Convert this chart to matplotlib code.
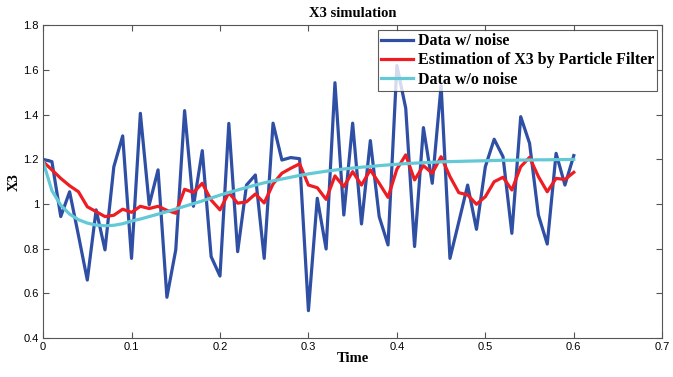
import numpy as np
import matplotlib.pyplot as plt

# time axis (step 0.01)
t = np.round(np.arange(0, 0.601, 0.01), 2)

x3_noisy = [1.20, 1.19, 0.944, 1.055, 0.86, 0.66, 0.974, 0.795, 1.167, 1.305,
            0.757, 1.406, 0.996, 1.153, 0.583, 0.795, 1.418, 0.99, 1.239, 0.765,
            0.678, 1.361, 0.787, 1.085, 1.13, 0.757, 1.362, 1.197, 1.208, 1.203,
            0.523, 1.026, 0.799, 1.543, 0.951, 1.362, 0.911, 1.284, 0.944, 0.817,
            1.62, 1.429, 0.81, 1.342, 1.093, 1.53, 0.757, 0.92, 1.085, 0.887,
            1.167, 1.29, 1.212, 0.869, 1.391, 1.272, 0.951, 0.821, 1.227, 1.085,
            1.217]

x3_pf = [1.19, 1.153, 1.115, 1.082, 1.055, 0.988, 0.966, 0.944, 0.95, 0.977,
         0.963, 0.99, 0.98, 0.99, 0.972, 0.959, 1.066, 1.052, 1.093, 1.018,
         0.974, 1.051, 1.004, 1.01, 1.045, 1.005, 1.09, 1.138, 1.16, 1.18,
         1.085, 1.073, 1.021, 1.126, 1.078, 1.145, 1.085, 1.153, 1.093, 1.03,
         1.156, 1.22, 1.108, 1.172, 1.138, 1.212, 1.123, 1.051, 1.041, 0.999,
         1.033, 1.10, 1.12, 1.063, 1.167, 1.209, 1.123, 1.055, 1.115, 1.11,
         1.142]

x3_true = [1.19, 1.06, 0.995, 0.955, 0.93, 0.915, 0.906, 0.903, 0.905, 0.912,
           0.924, 0.933, 0.944, 0.955, 0.966, 0.978, 0.99, 1.002, 1.014, 1.027,
           1.04, 1.052, 1.063, 1.074, 1.085, 1.095, 1.104, 1.112, 1.12, 1.128,
           1.135, 1.141, 1.147, 1.152, 1.157, 1.161, 1.165, 1.168, 1.172, 1.175,
           1.178, 1.181, 1.183, 1.185, 1.187, 1.189, 1.19, 1.191, 1.192, 1.193,
           1.194, 1.195, 1.196, 1.196, 1.197, 1.197, 1.198, 1.198, 1.199, 1.199,
           1.2]

serif = 'Liberation Serif'
plt.rcParams['font.family'] = 'Liberation Sans'

fig = plt.figure(figsize=(6.73, 3.77), dpi=100)
ax = fig.add_axes([0.064, 0.103, 0.92, 0.83])

ax.plot(t, x3_noisy, color='#2F4FA5', lw=2.3, label='Data w/ noise')
ax.plot(t, x3_pf, color='#EE1D24', lw=2.3, label='Estimation of X3 by Particle Filter')
ax.plot(t, x3_true, color='#63C9D7', lw=2.3, label='Data w/o noise')

ax.set_xlim(0, 0.7)
ax.set_ylim(0.4, 1.8)
ax.set_xticks(np.arange(0, 0.71, 0.1))
ax.set_xticklabels(['0', '0.1', '0.2', '0.3', '0.4', '0.5', '0.6', '0.7'])
ax.set_yticks(np.arange(0.4, 1.81, 0.2))
ax.set_yticklabels(['0.4', '0.6', '0.8', '1', '1.2', '1.4', '1.6', '1.8'])
ax.tick_params(direction='in', top=True, right=True, labelsize=8, length=4,
               color='#555555', pad=3)
for s in ax.spines.values():
    s.set_color('#555555')

ax.set_title('X3 simulation', fontfamily=serif, fontweight='bold', fontsize=10.5, pad=6)
ax.set_xlabel('Time', fontfamily=serif, fontweight='bold', fontsize=10.5, labelpad=0)
ax.set_ylabel('X3', fontfamily=serif, fontweight='bold', fontsize=10.5, labelpad=2)

leg = ax.legend(loc='upper right', prop={'family': serif, 'weight': 'bold', 'size': 11.5},
                fancybox=False, edgecolor='#333333', borderaxespad=0.3,
                handlelength=2.0, borderpad=0.2, labelspacing=0.2, handletextpad=0.3)
leg.get_frame().set_linewidth(0.8)

fig.savefig('out.png', dpi=100)
